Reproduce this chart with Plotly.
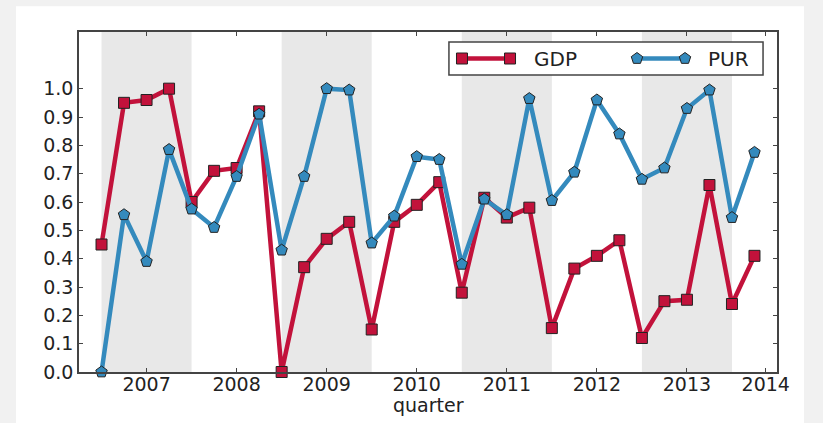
import plotly.graph_objects as go

# Quarterly series, 2006Q3 .. 2013Q4 (normalised to 0..1)
quarters = [f"{y}Q{q}" for y in range(2006, 2014) for q in range(1, 5)][2:]
gdp = [0.45, 0.95, 0.96, 1.00, 0.60, 0.71, 0.72, 0.92,
       0.00, 0.37, 0.47, 0.53, 0.15, 0.53, 0.59, 0.67,
       0.28, 0.615, 0.545, 0.58, 0.155, 0.365, 0.41, 0.465,
       0.12, 0.25, 0.255, 0.66, 0.24, 0.41]
pur = [0.00, 0.555, 0.39, 0.785, 0.575, 0.51, 0.69, 0.91,
       0.43, 0.69, 1.00, 0.995, 0.455, 0.55, 0.76, 0.75,
       0.38, 0.61, 0.555, 0.965, 0.605, 0.705, 0.96, 0.84,
       0.68, 0.72, 0.93, 0.995, 0.545, 0.775]

year_labels = ["2007", "2008", "2009", "2010", "2011", "2012", "2013", "2014"]
year_tick_pos = [2, 6, 10, 14, 18, 22, 26, 29.5]
y_ticks = [round(0.1 * i, 1) for i in range(11)]
# shaded spans (quarter index start, end)
shaded = [(0, 4), (8, 12), (16, 20), (24, 28)]

RED = "#C2123B"
BLUE = "#348ABD"
EDGE = "#222222"
AXIS = "#444444"
TXT = "#222222"
FONT = "DejaVu Sans"

x = list(range(len(quarters)))

fig = go.Figure()

fig.add_trace(go.Scatter(
    x=x, y=gdp, name="GDP", text=quarters, mode="lines+markers",
    line=dict(color=RED, width=4.5),
    marker=dict(symbol="square", size=11, color=RED,
                line=dict(color=EDGE, width=1)),
    cliponaxis=False))
fig.add_trace(go.Scatter(
    x=x, y=pur, name="PUR", text=quarters, mode="lines+markers",
    line=dict(color=BLUE, width=4.5),
    marker=dict(symbol="pentagon", size=12, color=BLUE,
                line=dict(color=EDGE, width=1)),
    cliponaxis=False))

shapes = []
# white card on grey page
shapes.append(dict(type="rect", xref="paper", yref="paper",
                   x0=-0.0903, x1=1.0387, y0=-0.2, y1=1.076,
                   fillcolor="white", line=dict(width=0), layer="below"))
for a, b in shaded:
    shapes.append(dict(type="rect", xref="x", yref="paper", x0=a, x1=b,
                       y0=0, y1=1, fillcolor="#e8e8e8",
                       line=dict(width=0), layer="below"))

# legend box
lx0, lx1, ly0, ly1 = 0.530, 0.980, 0.8735, 0.9706
shapes.append(dict(type="rect", xref="paper", yref="paper",
                   x0=lx0, x1=lx1, y0=ly0, y1=ly1, fillcolor="white",
                   line=dict(color=AXIS, width=1.5), layer="below"))

# legend keys drawn on an overlay axis spanning the plot area
ly = (ly0 + ly1) / 2
for (k0, k1), col, sym, sz in [((0.5487, 0.6175), RED, "square", 11),
                               ((0.7994, 0.8682), BLUE, "pentagon", 12)]:
    fig.add_trace(go.Scatter(
        x=[k0, k1], y=[ly, ly], xaxis="x2", yaxis="y2", mode="lines+markers",
        line=dict(color=col, width=4.5),
        marker=dict(symbol=sym, size=sz, color=col,
                    line=dict(color=EDGE, width=1)),
        showlegend=False, hoverinfo="skip", cliponaxis=False))

annotations = [
    dict(text="GDP", xref="paper", yref="paper", x=0.649, y=ly,
         xanchor="left", yanchor="middle", showarrow=False,
         font=dict(family=FONT, size=20, color=TXT)),
    dict(text="PUR", xref="paper", yref="paper", x=0.898, y=ly,
         xanchor="left", yanchor="middle", showarrow=False,
         font=dict(family=FONT, size=20, color=TXT)),
    dict(text="quarter", xref="paper", yref="paper", x=0.5, y=-0.097,
         xanchor="center", yanchor="middle", showarrow=False,
         font=dict(family=FONT, size=19, color=TXT)),
]

fig.update_layout(
    width=823, height=423,
    margin=dict(l=79, r=46, t=32, b=51),
    paper_bgcolor="#f1f1f1",
    plot_bgcolor="rgba(0,0,0,0)",
    showlegend=False,
    shapes=shapes,
    annotations=annotations,
    font=dict(family=FONT, size=19, color=TXT),
    xaxis=dict(
        range=[-1, 30], tickvals=year_tick_pos, ticktext=year_labels,
        ticks="inside", ticklen=4, tickwidth=1, tickcolor=AXIS,
        showline=True, linecolor=AXIS, linewidth=1.5, mirror="ticks",
        showgrid=False, zeroline=False, automargin=False,
        ticklabelstandoff=-6,
        tickfont=dict(family=FONT, size=19, color=TXT),
    ),
    yaxis=dict(
        range=[0, 1.2], tickvals=y_ticks, ticktext=[f"{v:.1f}" for v in y_ticks],
        ticks="inside", ticklen=4, tickwidth=1, tickcolor=AXIS,
        showline=True, linecolor=AXIS, linewidth=1.5, mirror="ticks",
        showgrid=False, zeroline=False, automargin=False,
        tickfont=dict(family=FONT, size=19, color=TXT),
    ),
    xaxis2=dict(overlaying="x", range=[0, 1], visible=False),
    yaxis2=dict(overlaying="y", range=[0, 1], visible=False),
)

fig.write_html("out.html")
